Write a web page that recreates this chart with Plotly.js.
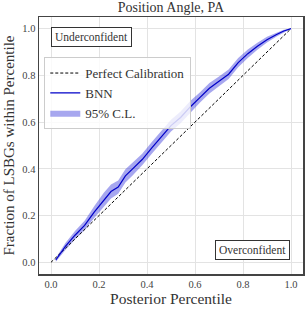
<!DOCTYPE html>
<html>
<head>
<meta charset="utf-8">
<script src="https://cdn.plot.ly/plotly-3.0.1.min.js"></script>
<style>html,body{margin:0;padding:0;background:#fff;}#chart{width:308px;height:310px;}</style>
</head>
<body>
<div id="chart"></div>
<script>
// Data
const percentile = [0.02, 0.06, 0.10, 0.14, 0.18, 0.22, 0.25, 0.28, 0.31, 0.34, 0.38, 0.42, 0.46, 0.50, 0.54, 0.58, 0.62, 0.66, 0.70, 0.74, 0.78, 0.82, 0.86, 0.90, 0.94, 0.97, 1.00];
const bnnFraction = [0.010, 0.068, 0.116, 0.158, 0.215, 0.268, 0.303, 0.322, 0.370, 0.400, 0.440, 0.490, 0.540, 0.585, 0.620, 0.665, 0.705, 0.745, 0.775, 0.805, 0.855, 0.893, 0.925, 0.953, 0.975, 0.990, 1.000];
const clLower = [0.002, 0.053, 0.098, 0.138, 0.190, 0.238, 0.273, 0.294, 0.342, 0.372, 0.415, 0.465, 0.515, 0.560, 0.595, 0.640, 0.683, 0.723, 0.755, 0.785, 0.835, 0.875, 0.910, 0.941, 0.967, 0.985, 1.000];
const clUpper = [0.018, 0.083, 0.134, 0.178, 0.240, 0.298, 0.333, 0.350, 0.398, 0.428, 0.465, 0.515, 0.565, 0.610, 0.645, 0.690, 0.727, 0.767, 0.795, 0.825, 0.875, 0.911, 0.940, 0.965, 0.983, 0.995, 1.000];
const perfectX = [0, 1];
const perfectY = [0, 1];
const tickVals = [0, 0.2, 0.4, 0.6, 0.8, 1.0];
const tickText = ['0.0', '0.2', '0.4', '0.6', '0.8', '1.0'];

const serif = 'Liberation Serif';

const traces = [
  {x: percentile, y: clLower, mode: 'lines', line: {width: 0, color: 'rgba(0,0,0,0)'}, showlegend: false, hoverinfo: 'skip'},
  {x: percentile, y: clUpper, mode: 'lines', fill: 'tonexty', fillcolor: 'rgba(60,60,220,0.45)', line: {width: 0, color: 'rgba(0,0,0,0)'}, name: '95% C.L.', legendrank: 3},
  {x: perfectX, y: perfectY, mode: 'lines', line: {color: 'black', width: 1, dash: '3px,2px'}, name: 'Perfect Calibration', legendrank: 1},
  {x: percentile, y: bnnFraction, mode: 'lines', line: {color: '#0000c8', width: 1.2}, name: 'BNN', legendrank: 2}
];

const axisCommon = {
  range: [-0.05, 1.05], tickvals: tickVals, ticktext: tickText,
  showgrid: true, gridcolor: '#e3e3e3', gridwidth: 1, zeroline: false,
  showline: true, mirror: true, linecolor: '#444', linewidth: 1.5,
  ticks: '', tickfont: {family: serif, size: 10.5, color: '#444'}
};

const layout = {
  width: 308, height: 310,
  margin: {l: 39, r: 5, t: 17, b: 36},
  paper_bgcolor: 'white', plot_bgcolor: 'white',
  font: {family: serif},
  title: {text: 'Position Angle, PA', font: {family: serif, size: 14, color: '#333'}, x: 0.555, xanchor: 'center', y: 0.993, yanchor: 'top'},
  xaxis: Object.assign({}, axisCommon, {title: {text: 'Posterior Percentile', font: {family: serif, size: 15.5, color: '#333'}, standoff: 4}}),
  yaxis: Object.assign({}, axisCommon, {title: {text: 'Fraction of LSBGs within Percentile', font: {family: serif, size: 15, color: '#333'}, standoff: 4}}),
  legend: {x: 0.02, y: 0.844, xanchor: 'left', yanchor: 'top', bgcolor: 'rgba(255,255,255,0.8)', bordercolor: '#ccc', borderwidth: 1,
           font: {family: serif, size: 13, color: '#333'}, tracegroupgap: 0, itemwidth: 30, traceorder: 'normal'},
  annotations: [
    {text: 'Underconfident', xref: 'paper', yref: 'paper', x: 0.197, y: 0.922, xanchor: 'center', yanchor: 'middle', showarrow: false,
     font: {family: serif, size: 11.5, color: '#333'}, bordercolor: '#333', borderwidth: 1, borderpad: 3, bgcolor: 'white'},
    {text: 'Overconfident', xref: 'paper', yref: 'paper', x: 0.807, y: 0.095, xanchor: 'center', yanchor: 'middle', showarrow: false,
     font: {family: serif, size: 11.5, color: '#333'}, bordercolor: '#333', borderwidth: 1, borderpad: 3, bgcolor: 'white'}
  ],
  showlegend: true
};

Plotly.newPlot('chart', traces, layout, {displayModeBar: false, staticPlot: true});
</script>
</body>
</html>
